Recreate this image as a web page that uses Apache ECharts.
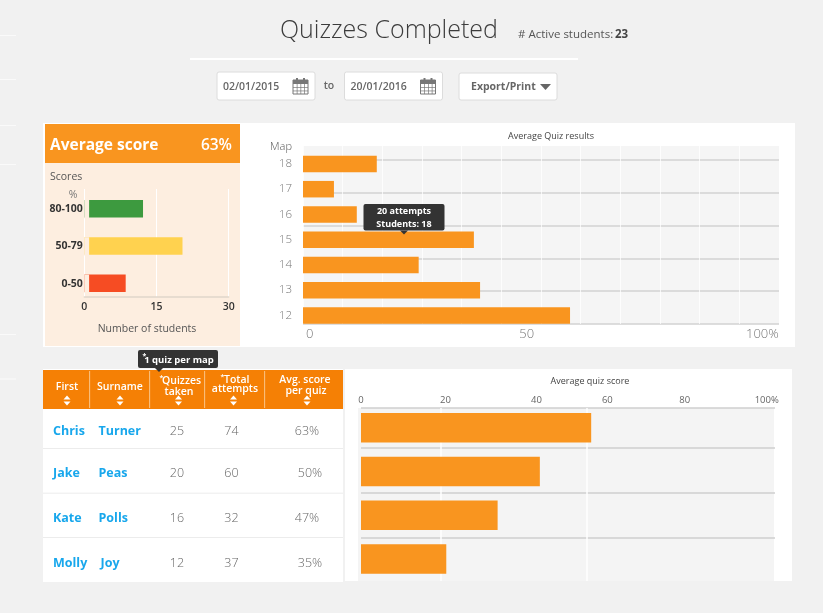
<!DOCTYPE html>
<html><head><meta charset="utf-8">
<style>html,body{margin:0;padding:0;background:#f1f1f1}#c{width:823px;height:613px}</style>
<script src="https://cdn.jsdelivr.net/npm/echarts@6/dist/echarts.min.js"></script>
</head><body><div id="c"></div>
<script>
// ---- data ----
const scoreBands = ['0-50', '50-79', '80-100'];
const scoreCounts = [8.6, 20.4, 12.2];
const scoreGutter = [1, 1, 1];
const scoreColors = ['#f64c23', '#ffd24f', '#3d9a3f'];
const scoreTicks = [0, 15, 30];

const maps = ['12', '13', '14', '15', '16', '17', '18'];
const mapResults = [56.1, 37.2, 24.3, 35.9, 11.3, 6.5, 15.5];
const mapTickValues = [1.4, 47, 96.5];
const mapTickLabels = ['0', '50', '100%'];
const mapRowLines = [0, 1, 2, 3, 4, 5];

const students = ['Chris', 'Jake', 'Kate', 'Molly'];
const surnames = ['Turner', 'Peas', 'Polls', 'Joy'];
const quizzesTaken = [25, 20, 16, 12];
const totalAttempts = [74, 60, 32, 37];
const avgScores = ['63%', '50%', '47%', '35%'];
const quizScores = [55.6, 43.2, 33, 20.6];
const quizTickValues = [0, 20.4, 42.4, 59.5, 78.2, 98];
const quizTickLabels = ['0', '20', '40', '60', '80', '100%'];
const quizRowLines = [0, 0.9, 1.93, 2.96];
const quizVLines = [19.25, 54.6];

// ---- helpers ----
const FONT = '"Open Sans", sans-serif';
const ORANGE = '#f9951f';
const els = [];
function rect(x, y, w, h, fill, z, extra) {
  els.push(Object.assign({type: 'rect', z: z === undefined ? -5 : z, silent: true,
    shape: {x, y, width: w, height: h}, style: {fill}}, extra || {}));
}
function txt(x, y, text, size, fill, weight, align, z) {
  els.push({type: 'text', z: z === undefined ? 50 : z, silent: true, x, y: y + 1,
    style: {text, fill, fontFamily: FONT, fontSize: size, fontWeight: weight || 400,
      textAlign: align || 'left', textVerticalAlign: 'middle'}});
}
function poly(points, fill, z) {
  els.push({type: 'polygon', z: z === undefined ? 50 : z, silent: true, shape: {points}, style: {fill}});
}
function calendar(x, y) {
  const s = '#777';
  rect(x, y + 2, 15, 14, '#fff', 40, {style: {fill: '#fff', stroke: s, lineWidth: 1}});
  rect(x, y + 2, 15, 4, s, 41);
  rect(x + 3, y, 2, 4, s, 42); rect(x + 10, y, 2, 4, s, 42);
  for (let i = 1; i < 4; i++) rect(x + i * 3.75, y + 6, 0.7, 10, s, 41);
  for (let i = 1; i < 3; i++) rect(x, y + 6 + i * 3.3, 15, 0.7, s, 41);
}
function inputBox(x, w, y, h) {
  rect(x, y, w, h, '#fff', -4, {shape: {x, y, width: w, height: h, r: 2},
    style: {fill: '#fff', stroke: '#dcdcdc', lineWidth: 1}});
}
function sorter(x, y) {
  poly([[x - 3.5, y - 1], [x + 3.5, y - 1], [x, y - 5]], '#fff');
  poly([[x - 3.5, y + 1], [x + 3.5, y + 1], [x, y + 5]], '#fff');
}

// ---- page furniture ----
[35, 79, 125, 164, 334, 378.5].forEach(y => rect(0, y, 16, 1, '#fafafa', -6));
txt(280, 29.5, 'Quizzes Completed', 25, '#3c3c3c', 300);
txt(518, 34, '# Active students: ', 11.5, '#555');
txt(615, 34, '23', 11.5, '#444', 700);
rect(190, 58, 388, 2, '#fff');
inputBox(217, 98, 72, 28); inputBox(344.5, 98, 72, 28); inputBox(459, 98, 73, 27);
txt(223, 86.5, '02/01/2015', 10.5, '#666', 600);
txt(350.5, 86.5, '20/01/2016', 10.5, '#666', 600);
calendar(293, 78); calendar(420.5, 78);
txt(329, 85.5, 'to', 10.5, '#666', 600, 'center');
txt(471, 86.5, 'Export/Print', 10.5, '#666', 700);
poly([[540, 84], [551, 84], [545.5, 90]], '#666');

// ---- cards ----
rect(43, 123, 752, 224, '#fff', -6);
rect(45, 124, 195, 39, ORANGE, -5);
rect(45, 163, 195, 183, '#fdeee0', -5);
txt(50, 145, 'Average score', 15.5, '#fff', 700);
txt(232, 145, '63%', 15.5, '#fff', 600, 'right');
txt(50, 176, 'Scores', 10.5, '#555');
txt(73, 194, '%', 10.5, '#777', 400, 'center');
txt(147, 328, 'Number of students', 10.5, '#555', 400, 'center');
txt(551, 135.5, 'Average Quiz results', 9, '#444', 400, 'center');
txt(281, 146, 'Map', 11, '#555', 300, 'center');

rect(43, 369, 300, 213, '#fff', -6);
rect(345, 369, 447, 212, '#fff', -6);
rect(358, 408, 416, 173, '#f4f4f4', -5);
txt(590, 380.5, 'Average quiz score', 9, '#444', 400, 'center');

// ---- table ----
rect(43, 370, 300, 39, '#f58005', -4);
[89.3, 149.3, 204.3, 264.3].forEach(x => rect(x, 371, 0.8, 37, '#fbd6a8', -3));
[448.3, 492.7, 537.3].forEach(y => rect(43, y, 300, 0.8, '#e6e6e6', -3));
const W = '#fff';
txt(67, 386, 'First', 10.5, W, 600, 'center'); sorter(67, 400.5);
txt(120, 386, 'Surname', 10.5, W, 600, 'center'); sorter(120, 400.5);
txt(159.5, 377, '*', 7, W, 600);
txt(162, 380, 'Quizzes', 10.5, W, 600);
txt(179, 391.5, 'taken', 10.5, W, 600, 'center'); sorter(178.5, 400.5);
txt(220.5, 376, '*', 7, W, 600);
txt(224, 379, 'Total', 10.5, W, 600);
txt(235, 388.5, 'attempts', 10.5, W, 600, 'center'); sorter(233.5, 400.5);
txt(305, 379, 'Avg. score', 10.5, W, 600, 'center');
txt(306, 390, 'per quiz', 10.5, W, 600, 'center'); sorter(307, 400.5);
const rowY = [430, 472.7, 517.7, 562];
const avgX = [307, 310, 307, 310];
const surX = [98.5, 98.5, 98.5, 100.5];
rowY.forEach((y, i) => {
  txt(53, y, students[i], 12.5, '#18a7ec', 700);
  txt(surX[i], y, surnames[i], 12.5, '#18a7ec', 700);
  txt(177, y, String(quizzesTaken[i]), 12.5, '#666', 300, 'center');
  txt(231.5, y, String(totalAttempts[i]), 12.5, '#666', 300, 'center');
  txt(avgX[i], y, avgScores[i], 12.5, '#666', 300, 'center');
});

// ---- tooltips ----
function tip(x, y, w, h, lines, ax, size, textX) {
  els.push({type: 'rect', z: 60, silent: true, shape: {x, y, width: w, height: h, r: 2}, style: {fill: '#333'}});
  poly([[ax - 4, y + h], [ax + 4, y + h], [ax, y + h + 4]], '#333', 60);
  lines.forEach((t, i) => txt(textX || x + w / 2, y + (h / lines.length) * (i + 0.5), t, size, '#fff', 700, 'center', 61));
}
tip(363.5, 204, 81, 26.5, ['20 attempts', 'Students: 18'], 404, 9);
tip(138, 350, 80, 18, ['1 quiz per map'], 159, 9.5, 179);
txt(142.5, 355, '*', 7, '#fff', 700, 'left', 61);

// ---- axes helper ----
const noLine = {show: false};
const option = {
  animation: false,
  backgroundColor: '#f1f1f1',
  textStyle: {fontFamily: FONT},
  graphic: {elements: els},
  grid: [
    // score panel: scale + gridlines, then bars
    {left: 84.3, top: 189, width: 144.4, height: 108},
    {left: 84.3, top: 190.5, width: 144.4, height: 112},
    // map chart
    {left: 303, top: 146, width: 476, height: 178, show: true, borderWidth: 0, backgroundColor: '#f5f5f5'},
    {left: 303, top: 151.3, width: 476, height: 176.8},
    // quiz chart
    {left: 361, top: 408, width: 414, height: 173},
    {left: 361, top: 405.8, width: 414, height: 175.2}
  ],
  xAxis: [
    {type: 'value', gridIndex: 0, min: 0, max: 30, interval: 15,
      axisLine: {show: true, onZero: false, lineStyle: {color: '#e0d6ca', width: 1.5}},
      axisTick: noLine, splitLine: {show: true, lineStyle: {color: '#fff', width: 1}},
      axisLabel: {color: '#333', fontSize: 10.5, fontWeight: 600, margin: 5, fontFamily: FONT,
        formatter: v => String(scoreTicks[scoreTicks.indexOf(v)])}},
    {type: 'value', gridIndex: 1, min: 0, max: 30, show: false},
    {type: 'value', gridIndex: 2, min: 0, max: 100, interval: 100 / 12,
      axisLine: noLine, axisTick: noLine,
      splitLine: {show: true, lineStyle: {color: 'rgba(255,255,255,0.75)', width: 1}},
      axisLabel: {customValues: mapTickValues, color: '#777', fontSize: 13, fontWeight: 300, margin: 4, fontFamily: FONT,
        formatter: v => mapTickLabels[mapTickValues.indexOf(v)]}},
    {type: 'value', gridIndex: 3, min: 0, max: 100, show: false},
    {type: 'value', gridIndex: 4, min: 0, max: 100, position: 'top',
      axisLine: noLine,
      axisTick: {show: false, customValues: quizVLines},
      splitLine: {show: true, lineStyle: {color: '#fff', width: 1.5}},
      axisLabel: {customValues: quizTickValues, color: '#666', fontSize: 9.5, margin: 3, fontFamily: FONT,
        formatter: v => quizTickLabels[quizTickValues.indexOf(v)]}},
    {type: 'value', gridIndex: 5, min: 0, max: 100, show: false}
  ],
  yAxis: [
    {type: 'value', gridIndex: 0, min: 0, max: 1, show: false},
    {type: 'category', gridIndex: 1, data: scoreBands,
      axisLine: noLine, axisTick: noLine, splitLine: noLine,
      axisLabel: {color: '#333', fontSize: 10.5, fontWeight: 700, margin: 1.5, fontFamily: FONT}},
    {type: 'value', gridIndex: 2, min: 0, max: 178 / 32.8,
      axisLine: noLine, axisLabel: noLine,
      axisTick: {show: false, customValues: mapRowLines},
      splitLine: {show: true, lineStyle: {color: '#d2d2d2', width: 1.6}}},
    {type: 'category', gridIndex: 3, data: maps,
      axisLine: noLine, axisTick: noLine, splitLine: noLine,
      axisLabel: {color: '#777', fontSize: 11.5, fontWeight: 300, margin: 11, fontFamily: FONT}},
    {type: 'value', gridIndex: 4, inverse: true, min: 0, max: 173 / 43.8,
      axisLine: noLine, axisLabel: noLine,
      axisTick: {show: false, customValues: quizRowLines},
      splitLine: {show: true, lineStyle: {color: '#cfcfcf', width: 1.6}}},
    {type: 'category', gridIndex: 5, inverse: true, data: students, show: false}
  ],
  series: [
    {type: 'bar', name: 'Students', xAxisIndex: 1, yAxisIndex: 1, barWidth: 17.5, z: 3,
      data: scoreCounts.map((v, i) => ({value: v, itemStyle: {color: scoreColors[i]}}))},
    {type: 'bar', name: 'Axis gutter', xAxisIndex: 1, yAxisIndex: 1, barWidth: 18.5, barGap: '-100%', z: 4,
      itemStyle: {color: '#fdeee0'}, data: scoreGutter},
    {type: 'bar', name: 'Average quiz results', xAxisIndex: 3, yAxisIndex: 3, barWidth: 16.5, z: 3,
      itemStyle: {color: ORANGE}, data: mapResults},
    {type: 'bar', name: 'Average quiz score', xAxisIndex: 5, yAxisIndex: 5, barWidth: 29.5, z: 3,
      itemStyle: {color: ORANGE}, data: quizScores}
  ]
};
echarts.init(document.getElementById('c'), null, {renderer: 'canvas'}).setOption(option);
</script></body></html>
